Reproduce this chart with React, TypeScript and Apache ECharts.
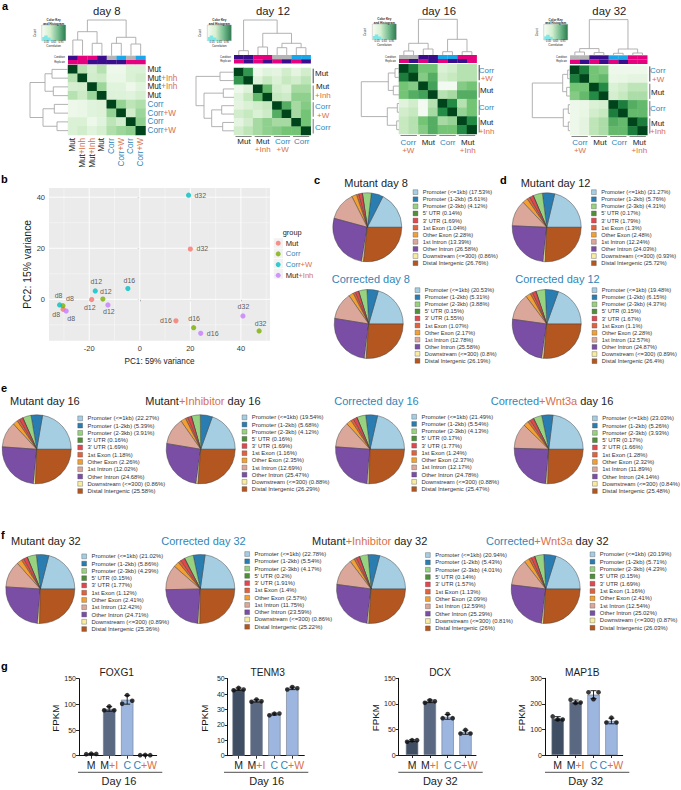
import React, { useEffect, useRef } from "react";
import * as echarts from "echarts";

const FONT = '"Liberation Sans", Arial, sans-serif';
const ORANGE = "#d8704a";
const BLUE = "#2f86b8";
const INK = "#1c1c1c";

// ---------- panel a : sample correlation heatmaps ----------
const sampleLabels8 = ["Mut", "Mut+Inh", "Mut+Inh", "Mut", "Corr", "Corr+W", "Corr", "Corr+W"];
const sampleLabels12 = ["Mut", "Mut", "Mut+Inh", "Mut+Inh", "Corr+W", "Corr+W", "Corr", "Corr"];
const sampleLabelsLate = ["Corr+W", "Corr+W", "Mut", "Mut", "Corr", "Corr", "Mut+Inh", "Mut+Inh"];

const corrDay8 = [
  [1, 0.3, 0.18, 0.3, 0.05, 0.05, 0.15, 0.15],
  [0.3, 1, 0.2, 0.22, 0.07, 0.07, 0.15, 0.2],
  [0.18, 0.2, 1, 0.38, 0.12, 0.12, 0.05, 0.12],
  [0.3, 0.22, 0.38, 1, 0.13, 0.13, 0.12, 0.17],
  [0.05, 0.07, 0.12, 0.13, 1, 0.4, 0.28, 0.32],
  [0.05, 0.07, 0.12, 0.13, 0.4, 1, 0.2, 0.38],
  [0.15, 0.15, 0.05, 0.12, 0.28, 0.2, 1, 0.42],
  [0.15, 0.2, 0.12, 0.17, 0.32, 0.38, 0.42, 1],
];
const corrDay12 = [
  [1, 0.7, 0.05, 0.12, 0.1, 0.2, 0.1, 0.2],
  [0.7, 1, 0.13, 0.25, 0.15, 0.25, 0.2, 0.28],
  [0.05, 0.13, 1, 0.55, 0.2, 0.15, 0.35, 0.35],
  [0.12, 0.25, 0.55, 1, 0.25, 0.22, 0.42, 0.42],
  [0.1, 0.15, 0.2, 0.25, 1, 0.6, 0.35, 0.45],
  [0.2, 0.25, 0.15, 0.22, 0.6, 1, 0.35, 0.5],
  [0.1, 0.2, 0.35, 0.42, 0.35, 0.35, 1, 0.5],
  [0.2, 0.28, 0.35, 0.42, 0.45, 0.5, 0.5, 1],
];
const corrDay16 = [
  [1, 0.8, 0.5, 0.5, 0.15, 0.2, 0.3, 0.3],
  [0.8, 1, 0.45, 0.6, 0.2, 0.25, 0.3, 0.3],
  [0.5, 0.45, 1, 0.65, 0.02, 0.02, 0.45, 0.5],
  [0.5, 0.6, 0.65, 1, 0.3, 0.35, 0.6, 0.6],
  [0.12, 0.2, 0.02, 0.3, 1, 0.75, 0.3, 0.5],
  [0.2, 0.25, 0.02, 0.35, 0.75, 1, 0.4, 0.5],
  [0.25, 0.3, 0.5, 0.6, 0.35, 0.4, 1, 0.75],
  [0.25, 0.3, 0.45, 0.6, 0.5, 0.5, 0.75, 1],
];
const corrDay32 = [
  [1, 0.8, 0.5, 0.45, 0.05, 0.05, 0.05, 0.05],
  [0.8, 1, 0.5, 0.55, 0.07, 0.08, 0.1, 0.1],
  [0.5, 0.5, 1, 0.75, 0.15, 0.2, 0.28, 0.28],
  [0.45, 0.55, 0.75, 1, 0.18, 0.25, 0.33, 0.33],
  [0.05, 0.07, 0.15, 0.18, 1, 0.8, 0.6, 0.55],
  [0.05, 0.08, 0.2, 0.25, 0.8, 1, 0.55, 0.55],
  [0.05, 0.1, 0.28, 0.33, 0.6, 0.55, 1, 0.8],
  [0.05, 0.1, 0.28, 0.33, 0.55, 0.55, 0.8, 1],
];
const stripPalette = ["#3a0d8c", "#e5007d", "#b5b5b5", "#18a7e8"];
const conditionDay8 = [0, 1, 1, 0, 2, 3, 2, 3];
const replicateDay8 = [1, 1, 0, 0, 0, 0, 1, 1];
const conditionDay12 = [0, 0, 1, 1, 2, 2, 3, 3];
const replicateDay12 = [1, 0, 1, 0, 1, 0, 1, 0];
const conditionDay16 = [2, 2, 0, 0, 3, 3, 1, 1];
const replicateDay16 = [1, 0, 1, 0, 1, 0, 0, 1];
const conditionDay32 = [2, 2, 0, 0, 3, 3, 1, 1];
const replicateDay32 = [1, 0, 1, 0, 1, 0, 1, 1];

type Tree = number | [Tree, Tree, number];
const topTreeDay8: Tree = [[[0, 1, 15.7], [2, 3, 12.4], 24], [[4, 5, 12.4], [6, 7, 11.7], 18.4], 35.7];
const leftTreeDay8: Tree = [[[0, 1, 16], [2, 3, 14.7], 23], [[4, 5, 13.7], [6, 7, 11], 25], 38];
const topTreeDay12: Tree = [[0, 1, 4.3], [[2, 3, 8], [[4, 5, 7.3], [6, 7, 7.3], 11.7], 21.7], 35];
const leftTreeDay12: Tree = [[0, 1, 14], [[2, 3, 10.7], [[4, 5, 12.3], [6, 7, 11.3], 22.3], 30], 38];
const topTreeDay16: Tree = [[[0, 1, 4], [2, 3, 6], 11.7], [[4, 5, 3.3], [6, 7, 3.3], 15.7], 35.7];
const leftTreeDay16: Tree = [[[0, 1, 4], [2, 3, 5.7], 10.7], [[4, 5, 1.7], [6, 7, 2.3], 11.7], 37.7];
const topTreeDay32: Tree = [[[0, 1, 3.3], [2, 3, 2.7], 6.7], [[4, 5, 2], [6, 7, 2.3], 6.3], 35.7];
const leftTreeDay32: Tree = [[[0, 1, 2.3], [2, 3, 3.3], 7.3], [[4, 5, 1.7], [6, 7, 1.7], 6.7], 37.7];

const heatPanels = [
  { title: "day 8", titleX: 106.7, left: 68, top: 65, width: 77.5, height: 70, matrix: corrDay8, names: sampleLabels8, condition: conditionDay8, replicate: replicateDay8, topTree: topTreeDay8, leftTree: leftTreeDay8, stripTop: 55.7, stripH: 4.3, brackets: false, keyX: 41.7, keyY: 25 },
  { title: "day 12", titleX: 273, left: 234, top: 68, width: 76.7, height: 67, matrix: corrDay12, names: sampleLabels12, condition: conditionDay12, replicate: replicateDay12, topTree: topTreeDay12, leftTree: leftTreeDay12, stripTop: 55, stripH: 4.25, brackets: true, keyX: 207.3, keyY: 25 },
  { title: "day 16", titleX: 439, left: 399, top: 64.3, width: 77.7, height: 69.7, matrix: corrDay16, names: sampleLabelsLate, condition: conditionDay16, replicate: replicateDay16, topTree: topTreeDay16, leftTree: leftTreeDay16, stripTop: 55, stripH: 4, brackets: true, keyX: 372.3, keyY: 24 },
  { title: "day 32", titleX: 609.3, left: 570, top: 65.7, width: 77.3, height: 69.3, matrix: corrDay32, names: sampleLabelsLate, condition: conditionDay32, replicate: replicateDay32, topTree: topTreeDay32, leftTree: leftTreeDay32, stripTop: 55.3, stripH: 4.35, brackets: true, keyX: 543.7, keyY: 24.3 },
];

// ---------- panel b : PCA ----------
const stages = ["d8", "d12", "d16", "d32"];
const pcaMut = [[-30.3, -3.9], [-19, -0.1], [14.3, -8.4], [20, 19.7]];
const pcaCorr = [[-30.4, -2.5], [-14.6, 0.1], [21.3, -11.1], [47.2, -12.4]];
const pcaCorrW = [[-31.7, -2.2], [-17.6, 3.3], [-4.7, 4.2], [19.3, 40.8]];
const pcaMutInh = [[-29.1, -4.6], [-12.6, -2.2], [24.1, -13.3], [40.8, -6.5]];
const pcaGroups = ["Mut", "Corr", "Corr+W", "Mut+Inh"];
const pcaColors = ["#F8766D", "#7CAE00", "#00BFC4", "#C77CFF"];
const pcaXMajor = [-20, 0, 20, 40];
const pcaXMinor = [-30, -10, 10, 30, 50];
const pcaYMajor = [0, 20, 40];
const pcaYMinor = [-10, 10, 30];
const pcaLabelOffsets = [
  [[-7, 5], [-2, 7.5], [-10, 0], [12, -0.5]],
  [[7, -7], [3, -8], [0.5, -9], [1.5, -7]],
  [[-1, -9.5], [1, -9], [1.5, -8], [11.7, 0]],
  [[5, 7], [1, 7], [12, 0.5], [0.5, -9]],
];

// ---------- panels c-f : peak annotation pies ----------
const featureNames = ["Promoter (<=1kb)", "Promoter (1-2kb)", "Promoter (2-3kb)", "5' UTR", "3' UTR", "1st Exon", "Other Exon", "1st Intron", "Other Intron", "Downstream (<=300)", "Distal Intergenic"];
const featureColors = ["#a6cee3", "#2a7db0", "#97d280", "#4f8f3a", "#e2474f", "#e0623f", "#f2a033", "#dba79a", "#7b4ea6", "#f7eca0", "#b4561f"];
const mutDay8 = [17.53, 5.61, 4.12, 0.14, 1.69, 1.04, 2.28, 13.39, 26.58, 0.86, 26.76];
const corDay8 = [20.53, 5.31, 3.88, 0.15, 1.55, 1.07, 2.17, 12.78, 25.58, 0.8, 26.19];
const mutDay12 = [21.27, 5.76, 4.31, 0.17, 1.79, 1.3, 2.48, 12.24, 24.03, 0.93, 25.72];
const corDay12 = [19.48, 6.15, 4.37, 0.15, 1.67, 1.1, 2.28, 12.57, 24.87, 0.89, 26.4];
const mutDay16 = [22.27, 5.39, 3.91, 0.16, 1.69, 1.18, 2.26, 12.02, 24.68, 0.86, 25.58];
const mutInhDay16 = [19.54, 5.68, 4.12, 0.16, 1.69, 1.16, 2.35, 12.69, 25.47, 0.88, 26.29];
const corDay16 = [21.49, 5.54, 4.13, 0.17, 1.77, 1.24, 2.37, 12.17, 24.78, 0.88, 25.47];
const corWntDay16 = [23.03, 5.26, 3.93, 0.17, 1.66, 1.28, 2.32, 11.89, 24.14, 0.84, 25.48];
const mutDay32 = [21.02, 5.86, 4.29, 0.15, 1.77, 1.12, 2.41, 12.42, 24.71, 0.89, 25.36];
const corDay32 = [22.78, 5.54, 4.17, 0.2, 1.91, 1.4, 2.57, 11.75, 23.59, 0.86, 25.22];
const mutInhDay32 = [20.94, 5.43, 4.01, 0.14, 1.57, 1.13, 2.09, 12.59, 25.29, 0.81, 26];
const corWntDay32 = [20.19, 5.71, 4.23, 0.15, 1.69, 1.16, 2.41, 12.54, 25.02, 0.87, 26.03];

const piePanels = [
  { values: mutDay8, cx: 367.3, cy: 227.3, iconX: 415.3, firstY: 192, stepY: 6.8, font: 5.7, titleX: 344.3, titleY: 182.7, title: "{k|Mutant day 8}" },
  { values: corDay8, cx: 368.7, cy: 324, iconX: 417.3, firstY: 290, stepY: 6.77, font: 5.7, titleX: 331.7, titleY: 279.3, title: "{b|Corrected day 8}" },
  { values: mutDay12, cx: 546.7, cy: 227.3, iconX: 593.7, firstY: 192, stepY: 6.8, font: 5.7, titleX: 520.7, titleY: 182.7, title: "{k|Mutant day 12}" },
  { values: corDay12, cx: 546.7, cy: 324, iconX: 594.3, firstY: 290, stepY: 6.8, font: 5.7, titleX: 515.3, titleY: 279.3, title: "{b|Corrected day 12}" },
  { values: mutDay16, cx: 36.7, cy: 449.3, iconX: 80, firstY: 418.3, stepY: 7.17, font: 5.9, titleX: 10, titleY: 401.3, title: "{k|Mutant day 16}" },
  { values: mutInhDay16, cx: 200.7, cy: 449.3, iconX: 244.3, firstY: 417.3, stepY: 7.07, font: 5.9, titleX: 145.3, titleY: 401.3, title: "{k|Mutant}{o|+Inhibitor}{k| day 16}" },
  { values: corDay16, cx: 370, cy: 449.3, iconX: 414, firstY: 416.7, stepY: 7.13, font: 5.9, titleX: 334.3, titleY: 401.3, title: "{b|Corrected day 16}" },
  { values: corWntDay16, cx: 548.7, cy: 449.3, iconX: 594.7, firstY: 418.3, stepY: 7.17, font: 5.9, titleX: 490.7, titleY: 401.3, title: "{b|Corrected}{o|+Wnt3a}{k| day 16}" },
  { values: mutDay32, cx: 40.3, cy: 589, iconX: 84, firstY: 556.3, stepY: 7.17, font: 5.9, titleX: 11, titleY: 541.3, title: "{k|Mutant day 32}" },
  { values: corDay32, cx: 200.3, cy: 589, iconX: 247, firstY: 554, stepY: 7.17, font: 5.9, titleX: 161.3, titleY: 541.3, title: "{b|Corrected day 32}" },
  { values: mutInhDay32, cx: 371, cy: 589, iconX: 427.7, firstY: 555, stepY: 7.23, font: 5.9, titleX: 312, titleY: 541.3, title: "{k|Mutant}{o|+Inhibitor}{k| day 32}" },
  { values: corWntDay32, cx: 545.7, cy: 589, iconX: 592.3, firstY: 554.3, stepY: 7.24, font: 5.9, titleX: 486, titleY: 541.3, title: "{b|Corrected}{o|+Wnt3a}{k| day 32}" },
];

// ---------- panel g : FPKM bars ----------
const barGroups = ["{k|M}", "{k|M}{o|+I}", "{b|C}", "{b|C}{o|+W}"];
const barColors = ["#3f4e62", "#5a6882", "#9db6e0", "#9db6e0"];
const dotJitter = [-0.28, 0, 0.28];
const foxg1Means = [3.5, 91, 109, 1.2];
const foxg1Sd = [0.5, 4.5, 8.6, 0.3];
const foxg1Dots = [[3, 4, 3.5], [88.5, 96, 88.5], [101, 118, 107], [1, 1.5, 1]];
const tenm3Means = [43.2, 35.6, 27, 43.7];
const tenm3Sd = [0.8, 0.8, 0.6, 0.8];
const tenm3Dots = [[42.5, 44, 43], [35, 36.5, 35.3], [26.2, 27.3, 27.4], [43, 44.6, 43.8]];
const dcxMeans = [28, 105, 74.5, 44.5];
const dcxSd = [1.7, 2.6, 4.6, 4];
const dcxDots = [[26, 29, 29], [102, 107, 105], [72, 80, 72], [42, 49, 42]];
const map1bMeans = [143, 208, 236, 133];
const map1bSd = [7, 7, 15.6, 11];
const map1bDots = [[151, 139, 139], [216, 203, 205], [245, 218, 245], [127, 146, 127]];

const barPanels = [
  { gene: "FOXG1", day: "Day 16", means: foxg1Means, sd: foxg1Sd, dots: foxg1Dots, max: 150, interval: 50, left: 79, top: 678.7, width: 77.7, height: 77, xMin: -0.68, xMax: 3.64, fpkmX: 55, titleX: 116.7, ruleL: 78, ruleR: 162.3, dayX: 119 },
  { gene: "TENM3", day: "Day 16", means: tenm3Means, sd: tenm3Sd, dots: tenm3Dots, max: 50, interval: 10, left: 227.7, top: 678.7, width: 76.6, height: 77, xMin: -0.61, xMax: 3.67, fpkmX: 204, titleX: 267.7, ruleL: 224, ruleR: 308.3, dayX: 266.7 },
  { gene: "DCX", day: "Day 32", means: dcxMeans, sd: dcxSd, dots: dcxDots, max: 150, interval: 50, left: 398.7, top: 678.3, width: 77.3, height: 76.7, xMin: -0.75, xMax: 3.59, fpkmX: 375.7, titleX: 440, ruleL: 398.3, ruleR: 482.7, dayX: 440.3 },
  { gene: "MAP1B", day: "Day 32", means: map1bMeans, sd: map1bSd, dots: map1bDots, max: 300, interval: 100, left: 545, top: 678.3, width: 77.7, height: 76.7, xMin: -0.71, xMax: 3.63, fpkmX: 521.7, titleX: 582.3, ruleL: 545, ruleR: 629.3, dayX: 585.7 },
];

// ---------- group labels around the heatmaps (text, x, y) ----------
const day12Side = [
  ["{k|Mut}", 315, 73.3], ["{k|Mut}", 316, 86.8], ["{o|+Inh}", 315, 95],
  ["{b|Corr}", 315, 106.8], ["{o|+W}", 317, 115], ["{b|Corr}", 315, 127.3],
];
const day12Under = [
  ["{k|Mut}", 244, 141.3], ["{k|Mut}", 262.7, 141.3], ["{o|+Inh}", 262.7, 149.7],
  ["{b|Corr}", 282.7, 141.3], ["{o|+W}", 282.7, 149.7], ["{b|Corr}", 301.7, 141.3],
];
const day16Side = [
  ["{b|Corr}", 478.7, 70.3], ["{o|+W}", 480.7, 78.5], ["{k|Mut}", 480, 90],
  ["{b|Corr}", 478.7, 107], ["{k|Mut}", 480, 122.7], ["{o|+Inh}", 478.7, 131],
];
const day16Under = [
  ["{b|Corr}", 408.3, 142.5], ["{o|+W}", 408.3, 150.7], ["{k|Mut}", 428.3, 142.5],
  ["{b|Corr}", 447.7, 142.5], ["{k|Mut}", 467.7, 142.5], ["{o|+Inh}", 467.7, 150.7],
];
const day32Side = [
  ["{b|Corr}", 650, 70.7], ["{o|+W}", 652, 79], ["{k|Mut}", 651, 92],
  ["{b|Corr}", 650, 108.3], ["{k|Mut}", 651, 123.3], ["{o|+Inh}", 650, 131.7],
];
const day32Under = [
  ["{b|Corr}", 580, 142], ["{o|+W}", 580, 150], ["{k|Mut}", 600, 142],
  ["{b|Corr}", 619.3, 142], ["{k|Mut}", 639.3, 142], ["{o|+Inh}", 639.3, 150],
];

const panelLetters: [string, number, number][] = [
  ["a", 2, 6], ["b", 1, 179.3], ["c", 314, 180], ["d", 500, 180], ["e", 1, 388], ["f", 1, 535], ["g", 1, 666],
];

// ---------- helpers ----------
const richOf = (size: number, weight = "normal") => ({
  k: { fill: INK, color: INK, fontSize: size, fontFamily: FONT, fontWeight: weight },
  o: { fill: ORANGE, color: ORANGE, fontSize: size, fontFamily: FONT, fontWeight: weight },
  b: { fill: BLUE, color: BLUE, fontSize: size, fontFamily: FONT, fontWeight: weight },
});

const txt = (text: string, x: number, y: number, size: number, o: any = {}) => ({
  type: "text",
  x,
  y,
  rotation: o.rotation || 0,
  silent: true,
  style: {
    text,
    fill: o.color || INK,
    fontSize: size,
    fontFamily: FONT,
    fontWeight: o.weight || "normal",
    align: o.align || "left",
    textAlign: o.align || "left",
    verticalAlign: "middle",
    textVerticalAlign: "middle",
    rich: text.includes("{") ? richOf(size, o.weight || "normal") : undefined,
  },
});

const line = (x1: number, y1: number, x2: number, y2: number, stroke: string, lineWidth: number) => ({
  type: "line",
  silent: true,
  shape: { x1, y1, x2, y2 },
  style: { stroke, lineWidth },
});

const sampleRich = (name: string) => {
  const [a, b] = name.split("+");
  const head = a === "Corr" ? `{b|${a}}` : `{k|${a}}`;
  return b ? `${head}{o|+${b}}` : head;
};

function flatten(t: Tree, out: number[][]): { pos: number; h: number } {
  if (typeof t === "number") return { pos: t, h: 0 };
  const a = flatten(t[0], out);
  const b = flatten(t[1], out);
  out.push([a.pos, a.h, b.pos, b.h, t[2]]);
  return { pos: (a.pos + b.pos) / 2, h: t[2] };
}

const annotRenderer = (p: any) => (_params: any, api: any) => {
  const o = api.coord([0, 0]);
  const s = api.size([1, 1]);
  const colX = (i: number) => o[0] + i * s[0];
  const rowY = (i: number) => o[1] + i * s[1];
  const left = o[0] - s[0] / 2;
  const top = o[1] - s[1] / 2;
  const right = left + 8 * s[0];
  const bottom = top + 8 * s[1];
  const children: any[] = [];
  [p.condition, p.replicate].forEach((codes: number[], r: number) => {
    codes.forEach((code, i) => {
      children.push({
        type: "rect",
        shape: { x: left + i * s[0], y: p.stripTop + r * p.stripH, width: s[0] + 0.2, height: p.stripH },
        style: { fill: stripPalette[code] },
      });
    });
  });
  const dendroStyle = { stroke: "#a9a9a9", lineWidth: 0.9, fill: "none" };
  const topSegs: number[][] = [];
  flatten(p.topTree, topSegs);
  topSegs.forEach(([a, ah, b, bh, h]) => {
    children.push({
      type: "polyline",
      shape: { points: [[colX(a), p.stripTop - ah], [colX(a), p.stripTop - h], [colX(b), p.stripTop - h], [colX(b), p.stripTop - bh]] },
      style: dendroStyle,
    });
  });
  const leftSegs: number[][] = [];
  flatten(p.leftTree, leftSegs);
  leftSegs.forEach(([a, ah, b, bh, h]) => {
    children.push({
      type: "polyline",
      shape: { points: [[left - ah, rowY(a)], [left - h, rowY(a)], [left - h, rowY(b)], [left - bh, rowY(b)]] },
      style: dendroStyle,
    });
  });
  if (p.brackets) {
    [0, 2, 4, 6].forEach((i) => {
      children.push({
        type: "line",
        shape: { x1: right + 2.5, y1: top + i * s[1] + 0.7, x2: right + 2.5, y2: top + (i + 2) * s[1] - 1.5 },
        style: { stroke: i === 0 ? "#444" : "#777", lineWidth: 1 },
      });
      children.push({
        type: "line",
        shape: { x1: left + i * s[0] + 1.5, y1: bottom + 1.5, x2: left + (i + 2) * s[0] - 1.5, y2: bottom + 1.5 },
        style: { stroke: "#666", lineWidth: 0.8 },
      });
    });
  }
  return { type: "group", children };
};

const colorKey = (x: number, y: number) => ({
  type: "group",
  x,
  y,
  silent: true,
  children: [
    {
      type: "rect",
      shape: { x: 0, y: 0, width: 24, height: 15.7 },
      style: {
        stroke: "#888",
        lineWidth: 0.3,
        fill: {
          type: "linear",
          x: 0,
          y: 0,
          x2: 1,
          y2: 0,
          colorStops: [
            { offset: 0, color: "#f7fcf5" },
            { offset: 0.35, color: "#d5efcf" },
            { offset: 0.7, color: "#6fb98a" },
            { offset: 1, color: "#2c7a50" },
          ],
        },
      },
    },
    {
      type: "polygon",
      shape: { points: [[0.5, 15.7], [0.5, 12], [2.5, 12], [2.5, 10.5], [6, 10.5], [6, 12.5], [9, 12.5], [9, 14.5], [12, 14.5], [12, 15.7]] },
      style: { fill: "#7fe8e6" },
    },
    txt("Color Key", 12, -5, 3, { align: "center", weight: "bold" }),
    txt("and Histogram", 12, -1.6, 3, { align: "center", weight: "bold" }),
    txt("Count", -7.5, 8, 3, { align: "center", rotation: Math.PI / 2 }),
    txt("0.05   0.65   0.95", 12, 17.5, 2.6, { align: "center" }),
    txt("Correlation", 12, 20.8, 3, { align: "center" }),
  ],
});

function buildOption() {
  const grid: any[] = [];
  const xAxis: any[] = [];
  const yAxis: any[] = [];
  const series: any[] = [];
  const legend: any[] = [];
  const elements: any[] = [];
  const heatSeriesIdx: number[] = [];
  let gridIdx = 0;
  let axisIdx = 0;

  // ---- heatmaps ----
  heatPanels.forEach((p, idx) => {
    grid.push({ left: p.left, top: p.top, width: p.width, height: p.height, outerBoundsMode: "none" });
    const labeled = idx === 0;
    xAxis.push({
      type: "category",
      gridIndex: gridIdx,
      data: p.names.map((n, i) => `${n}#${i}`),
      axisLine: { show: false },
      axisTick: { show: false },
      splitLine: { show: false },
      axisLabel: {
        show: labeled,
        interval: 0,
        rotate: 90,
        margin: 3,
        formatter: (v: string) => sampleRich(v.split("#")[0]),
        rich: richOf(8.2),
      },
    });
    yAxis.push({
      type: "category",
      gridIndex: gridIdx,
      inverse: true,
      position: "right",
      data: p.names.map((n, i) => `${n}#${i}`),
      axisLine: { show: false },
      axisTick: { show: false },
      splitLine: { show: false },
      axisLabel: {
        show: labeled,
        interval: 0,
        margin: 2,
        formatter: (v: string) => sampleRich(v.split("#")[0]),
        rich: richOf(8.2),
      },
    });
    const cells: number[][] = [];
    p.matrix.forEach((row, r) => row.forEach((v, c) => cells.push([c, r, v])));
    heatSeriesIdx.push(series.length);
    series.push({ type: "heatmap", xAxisIndex: axisIdx, yAxisIndex: axisIdx, data: cells, silent: true, itemStyle: { borderWidth: 0 } });
    series.push({
      type: "custom",
      xAxisIndex: axisIdx,
      yAxisIndex: axisIdx,
      coordinateSystem: "cartesian2d",
      data: [[0, 0]],
      silent: true,
      renderItem: annotRenderer(p),
    });
    elements.push(txt(p.title, p.titleX, 10.5, 11.3, { align: "center" }));
    elements.push(colorKey(p.keyX, p.keyY));
    elements.push(txt("Condition", p.left - 3, p.stripTop + p.stripH * 0.5, 2.6, { align: "right" }));
    elements.push(txt("Replicate", p.left - 3, p.stripTop + p.stripH * 1.5, 2.6, { align: "right" }));
    gridIdx++;
    axisIdx++;
  });
  [day12Side, day16Side, day32Side].forEach((rows) =>
    rows.forEach(([t, x, y]) => elements.push(txt(t as string, x as number, y as number, 8))),
  );
  [day12Under, day16Under, day32Under].forEach((rows) =>
    rows.forEach(([t, x, y]) => elements.push(txt(t as string, x as number, y as number, 8, { align: "center" }))),
  );

  // ---- PCA ----
  grid.push({ left: 49, top: 188, width: 221, height: 152.7, backgroundColor: "#ebebeb", show: true, borderWidth: 0, outerBoundsMode: "none" });
  const pcaLabelStyle = { color: "#3a3a3a", fontSize: 7.5, fontFamily: FONT };
  xAxis.push({
    type: "value",
    gridIndex: gridIdx,
    min: -35.9,
    max: 51.5,
    axisLine: { show: false },
    axisTick: { show: true, length: 2, customValues: pcaXMajor, lineStyle: { color: "#555", width: 0.6 } },
    axisLabel: { customValues: pcaXMajor, margin: 4, ...pcaLabelStyle },
    splitLine: { show: false },
    name: "PC1: 59% variance",
    nameLocation: "middle",
    nameGap: 17,
    nameTextStyle: { color: INK, fontSize: 8.2, fontFamily: FONT },
  });
  yAxis.push({
    type: "value",
    gridIndex: gridIdx,
    min: -16.2,
    max: 43.6,
    axisLine: { show: false },
    axisTick: { show: true, length: 2, customValues: pcaYMajor, lineStyle: { color: "#555", width: 0.6 } },
    axisLabel: { customValues: pcaYMajor, margin: 4, ...pcaLabelStyle },
    splitLine: { show: false },
    name: "PC2: 15% variance",
    nameLocation: "middle",
    nameRotate: 90,
    nameGap: 10,
    nameTextStyle: { color: INK, fontSize: 10.4, fontFamily: FONT },
  });
  const pcaAxis = axisIdx;
  axisIdx++;
  gridIdx++;
  series.push({
    type: "custom",
    xAxisIndex: pcaAxis,
    yAxisIndex: pcaAxis,
    coordinateSystem: "cartesian2d",
    silent: true,
    z: 1,
    data: [[0, 0]],
    renderItem: (_: any, api: any) => {
      const children: any[] = [];
      const vert = (v: number, w: number) => {
        const a = api.coord([v, -16.2]);
        const b = api.coord([v, 43.6]);
        children.push({ type: "line", shape: { x1: a[0], y1: a[1], x2: b[0], y2: b[1] }, style: { stroke: "#ffffff", lineWidth: w } });
      };
      const horiz = (v: number, w: number) => {
        const a = api.coord([-35.9, v]);
        const b = api.coord([51.5, v]);
        children.push({ type: "line", shape: { x1: a[0], y1: a[1], x2: b[0], y2: b[1] }, style: { stroke: "#ffffff", lineWidth: w } });
      };
      pcaXMinor.forEach((v) => vert(v, 0.4));
      pcaYMinor.forEach((v) => horiz(v, 0.4));
      pcaXMajor.forEach((v) => vert(v, 0.9));
      pcaYMajor.forEach((v) => horiz(v, 0.9));
      return { type: "group", children };
    },
  });
  [pcaMut, pcaCorr, pcaCorrW, pcaMutInh].forEach((points, g) => {
    series.push({
      type: "scatter",
      name: pcaGroups[g],
      xAxisIndex: pcaAxis,
      yAxisIndex: pcaAxis,
      symbolSize: 5.2,
      z: 3,
      itemStyle: { color: pcaColors[g] },
      data: points.map((pt, i) => [pt[0], pt[1], stages[i]]),
      silent: true,
      label: {
        show: true,
        position: "inside",
        formatter: (v: any) => v.data[2],
        color: "#333",
        fontSize: 7,
        fontFamily: FONT,
      },
      labelLayout: (params: any) => ({
        dx: pcaLabelOffsets[g][params.dataIndex][0],
        dy: pcaLabelOffsets[g][params.dataIndex][1],
      }),
    });
  });
  legend.push({
    data: pcaGroups,
    orient: "vertical",
    left: 275.7,
    top: 239.2,
    padding: 0,
    itemWidth: 5,
    itemHeight: 5,
    itemGap: 2.7,
    icon: "circle",
    selectedMode: false,
    formatter: sampleRich,
    textStyle: { fontSize: 7.6, fontFamily: FONT, rich: richOf(7.6) },
  });
  pcaGroups.forEach((_, i) =>
    elements.push({
      type: "rect",
      silent: true,
      z: 0,
      shape: { x: 273.7, y: 238.2 + i * 10.3, width: 9.3, height: 9.6 },
      style: { fill: "#f2f2f2" },
    }),
  );
  elements.push(txt("group", 282.7, 232.7, 7.4));

  // ---- pies ----
  piePanels.forEach((p) => {
    const names = featureNames.map((n, i) => `${n} (${p.values[i]}%)`);
    series.push({
      type: "pie",
      center: [p.cx, p.cy],
      radius: [0, 34.5],
      startAngle: 0,
      clockwise: false,
      silent: true,
      label: { show: false },
      labelLine: { show: false },
      data: names.map((name, i) => ({
        name,
        value: p.values[i],
        itemStyle: { color: featureColors[i], borderColor: "#3a3a3a", borderWidth: 0.45 },
      })),
    });
    legend.push({
      data: names,
      orient: "vertical",
      left: p.iconX - 2.4,
      top: p.firstY - p.font / 2,
      padding: 0,
      itemWidth: 4.8,
      itemHeight: 4.8,
      itemGap: p.stepY - p.font,
      icon: "rect",
      selectedMode: false,
      itemStyle: { borderColor: "#444", borderWidth: 0.35 },
      textStyle: { color: "#333", fontSize: p.font, fontFamily: FONT },
    });
    elements.push(txt(p.title, p.titleX, p.titleY, 11, {}));
  });

  // ---- bars ----
  barPanels.forEach((p) => {
    grid.push({ left: p.left, top: p.top, width: p.width, height: p.height, outerBoundsMode: "none" });
    xAxis.push({
      type: "value",
      gridIndex: gridIdx,
      min: p.xMin,
      max: p.xMax,
      splitLine: { show: false },
      axisLine: { show: true, onZero: false, lineStyle: { color: "#111", width: 1 } },
      axisTick: { show: true, length: 3, customValues: [0, 1, 2, 3], lineStyle: { color: "#111", width: 0.9 } },
      axisLabel: {
        customValues: [0, 1, 2, 3],
        margin: 4,
        formatter: (v: number) => barGroups[Math.round(v)],
        rich: richOf(10.5),
      },
    });
    yAxis.push({
      type: "value",
      gridIndex: gridIdx,
      min: 0,
      max: p.max,
      interval: p.interval,
      splitLine: { show: false },
      axisLine: { show: true, onZero: false, lineStyle: { color: "#111", width: 1 } },
      axisTick: { show: true, length: 3, lineStyle: { color: "#111", width: 0.9 } },
      axisLabel: { margin: 3, color: INK, fontSize: 7, fontFamily: FONT },
    });
    const ax = axisIdx;
    series.push({
      type: "bar",
      xAxisIndex: ax,
      yAxisIndex: ax,
      barWidth: 12.3,
      silent: true,
      data: p.means.map((m, i) => ({
        value: [i, m],
        itemStyle: { color: barColors[i], borderColor: "#6f7886", borderWidth: 0.6 },
      })),
    });
    series.push({
      type: "custom",
      xAxisIndex: ax,
      yAxisIndex: ax,
      coordinateSystem: "cartesian2d",
      silent: true,
      z: 3,
      encode: { x: 0, y: [1, 2] },
      data: p.means.map((m, i) => [i, m - p.sd[i], m + p.sd[i]]),
      renderItem: (_: any, api: any) => {
        const lo = api.coord([api.value(0), api.value(1)]);
        const hi = api.coord([api.value(0), api.value(2)]);
        const st = { stroke: "#111", lineWidth: 0.9 };
        return {
          type: "group",
          children: [
            { type: "line", shape: { x1: lo[0], y1: lo[1], x2: hi[0], y2: hi[1] }, style: st },
            { type: "line", shape: { x1: lo[0] - 3, y1: lo[1], x2: lo[0] + 3, y2: lo[1] }, style: st },
            { type: "line", shape: { x1: hi[0] - 3, y1: hi[1], x2: hi[0] + 3, y2: hi[1] }, style: st },
          ],
        };
      },
    });
    const points: number[][] = [];
    p.dots.forEach((trio, i) => trio.forEach((v, j) => points.push([i + dotJitter[j], v])));
    series.push({
      type: "scatter",
      xAxisIndex: ax,
      yAxisIndex: ax,
      symbolSize: 4.6,
      silent: true,
      z: 4,
      itemStyle: { color: "#0a0a0a" },
      data: points,
    });
    elements.push(txt(p.gene, p.titleX, 672.3, 10.2, { align: "center" }));
    elements.push(txt("FPKM", p.fpkmX, (p.top + p.top + p.height) / 2 + 1, 9.8, { align: "center", rotation: Math.PI / 2 }));
    elements.push(line(p.ruleL, 772.3, p.ruleR, 772.3, "#222", 0.8));
    elements.push(txt(p.day, p.dayX, 781, 11, { align: "center" }));
    gridIdx++;
    axisIdx++;
  });

  panelLetters.forEach(([t, x, y]) => elements.push(txt(t, x, y, 11, { weight: "bold", color: "#000" })));

  return {
    animation: false,
    backgroundColor: "#ffffff",
    tooltip: { show: false },
    textStyle: { fontFamily: FONT },
    grid,
    xAxis,
    yAxis,
    legend,
    visualMap: {
      type: "continuous",
      show: false,
      min: 0,
      max: 1,
      dimension: 2,
      seriesIndex: heatSeriesIdx,
      inRange: { color: ["#f7fcf5", "#c7e9c0", "#74c476", "#238b45", "#00441b"] },
    },
    graphic: { elements },
    series,
  };
}

export default function App() {
  const ref = useRef<HTMLDivElement>(null);
  useEffect(() => {
    const chart = echarts.init(ref.current!, undefined, { renderer: "svg", width: 681, height: 790 });
    chart.setOption(buildOption() as any);
    return () => chart.dispose();
  }, []);
  return <div ref={ref} style={{ position: "absolute", left: 0, top: 0, width: 681, height: 790 }} />;
}
